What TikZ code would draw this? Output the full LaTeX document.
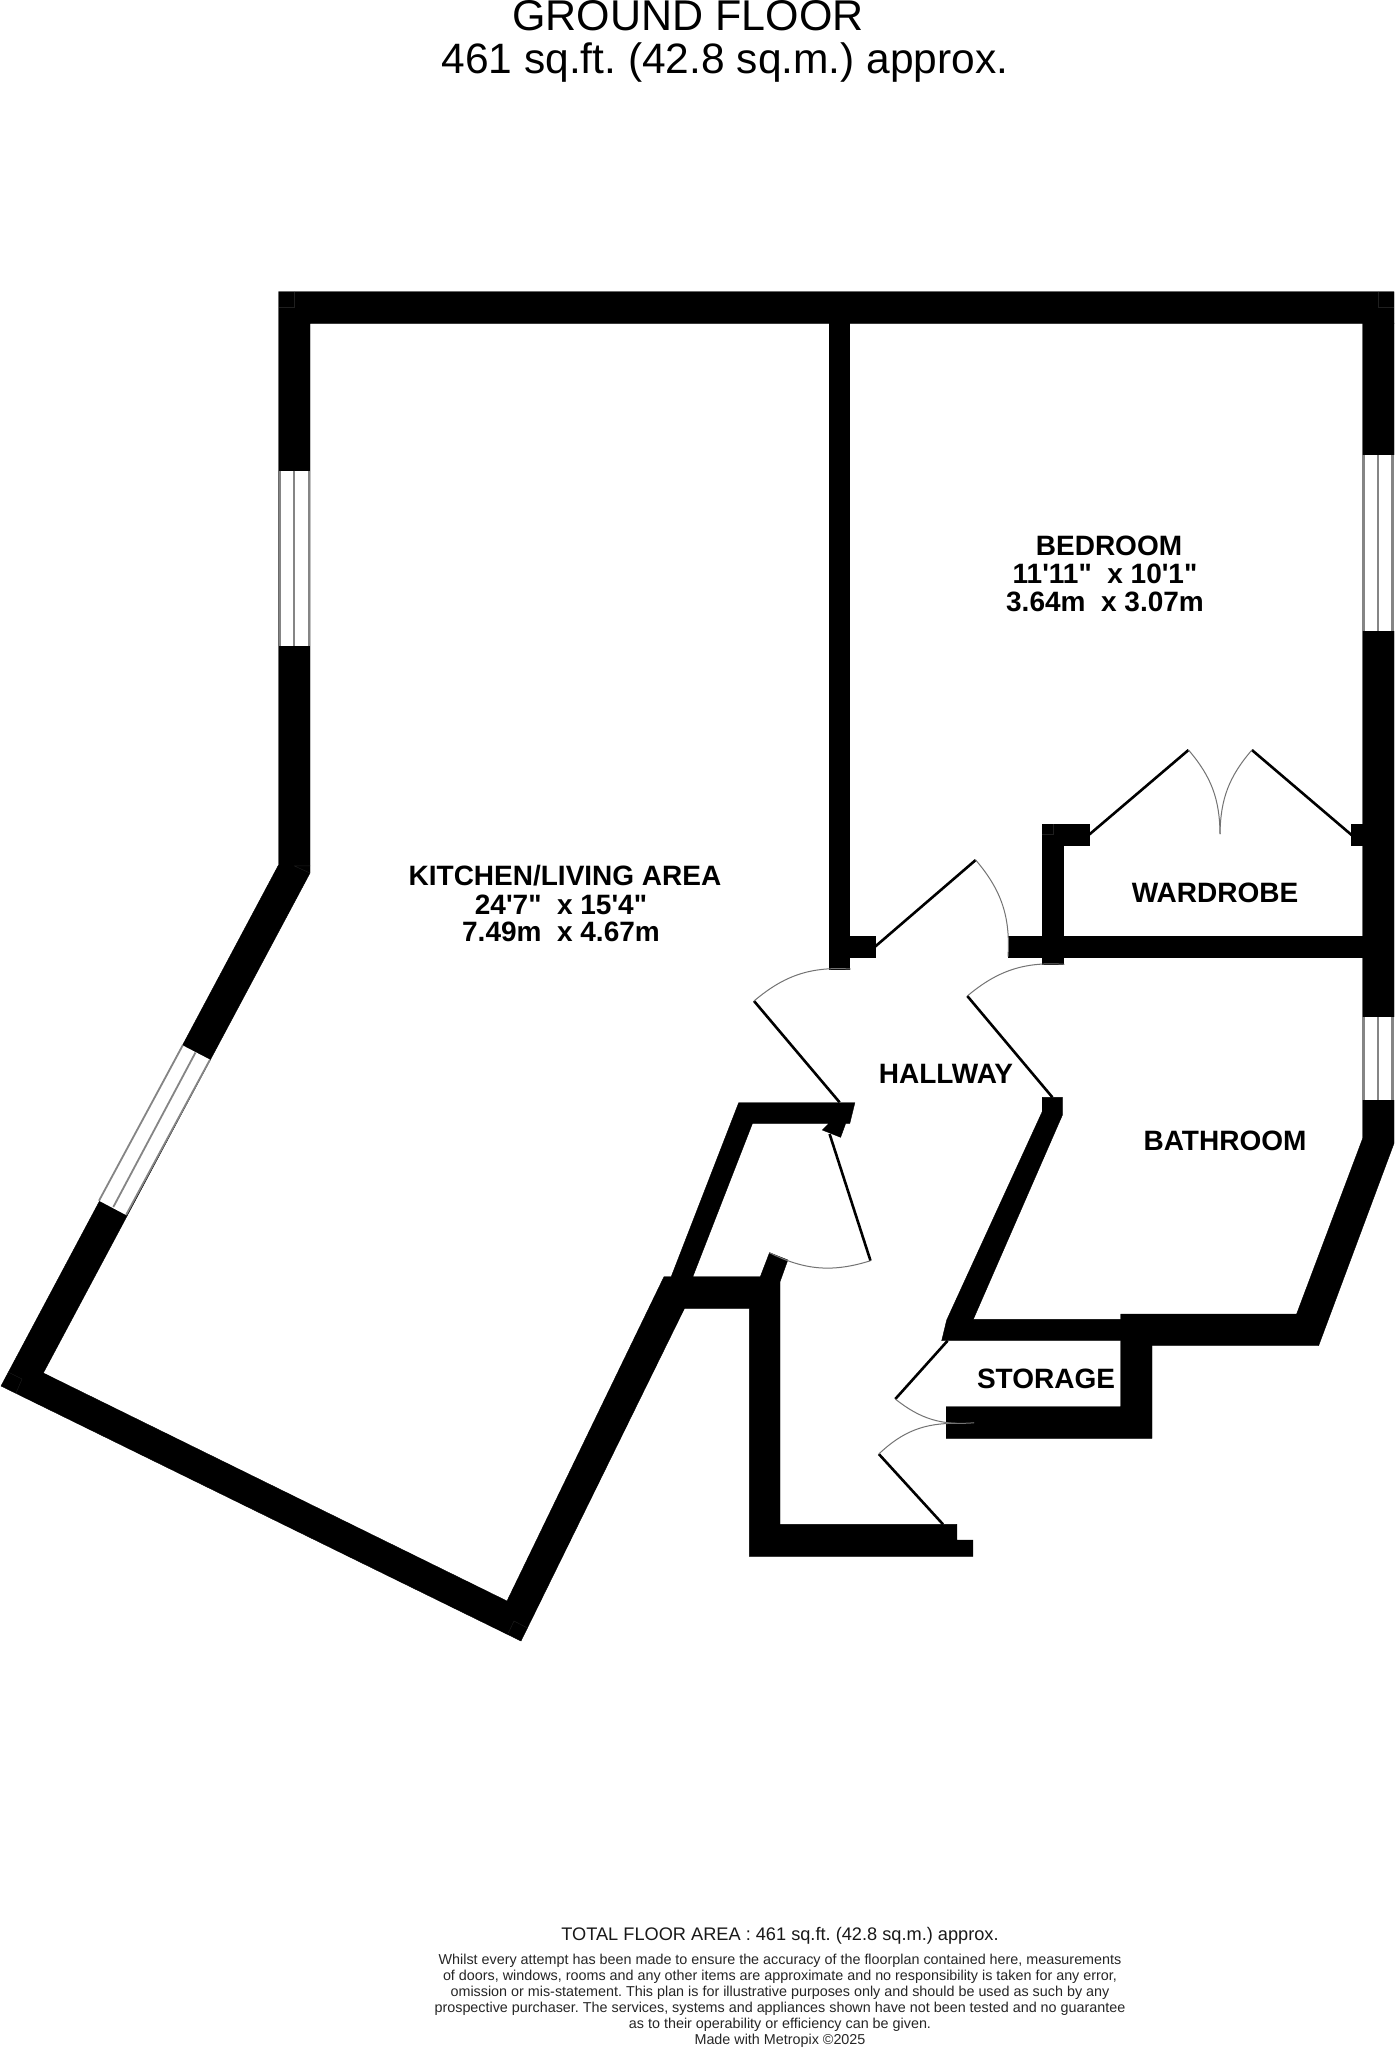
\documentclass[tikz,border=0pt]{standalone}
\usepackage{fontspec}
\newfontfamily\plainsans{Liberation Sans}
\frenchspacing
\tikzset{
  wall/.style={fill=black,draw=black,line width=0.4pt},
  glass/.style={fill=white,draw=none},
  pane/.style={draw=black!48,line width=2.7pt},
  leaf/.style={draw=black,line width=2.6pt},
  swing/.style={draw=black!55,line width=1pt},
  seam/.style={draw=black!88,line width=0.4pt},
  roomlabel/.style={font=\plainsans\fontsize{28}{29}\selectfont\bfseries,anchor=base,inner sep=0pt},
  titletext/.style={font=\plainsans\fontsize{43}{45}\selectfont,anchor=base,inner sep=0pt},
  areatext/.style={font=\plainsans\fontsize{42.5}{45}\selectfont,anchor=base,inner sep=0pt},
  smallprint/.style={font=\plainsans\fontsize{14.35}{16}\selectfont,anchor=base,inner sep=0pt,text=black!85},
  totalprint/.style={font=\plainsans\fontsize{18.2}{20}\selectfont,anchor=base,inner sep=0pt,text=black!90}
}
\begin{document}
\begin{tikzpicture}[x=1pt,y=-1pt]
\useasboundingbox (0,0) rectangle (1395,2048);
\fill[white] (0,0) rectangle (1395,2048);
% walls
\path[wall] (278.5,291.7) -- (1394,291.7) -- (1394,323.3) -- (310,323.3) -- (310,873) -- (43.3,1373) -- (507,1601) -- (664,1276.7) -- (671.2,1276.7) -- (738.7,1102.7) -- (854.9,1102.7) -- (849.8,1123.3) -- (845.7,1123.3) -- (840.6,1137.3) -- (822.3,1130) -- (829,1123.3) -- (752.5,1123.3) -- (692.8,1276.7) -- (760.3,1276.7) -- (769.5,1252.7) -- (787.8,1260) -- (780,1281.7) -- (780,1524.3) -- (956.8,1524.3) -- (956.8,1540) -- (972.9,1540) -- (972.9,1556.3) -- (749.3,1556.3) -- (749.3,1308.3) -- (684.5,1308.3) -- (521,1641) -- (1,1386) -- (278.5,865) -- cycle;
\path[wall] (1362.7,323) -- (1394,323) -- (1394,1143.3) -- (1318.6,1345.7) -- (1152,1345.7) -- (1152,1438.3) -- (946.2,1438.3) -- (946.2,1406.7) -- (1120.7,1406.7) -- (1120.7,1340.7) -- (941.7,1340.7) -- (946.7,1320) -- (1042.2,1111.7) -- (1042.2,1097.3) -- (1062.4,1097.3) -- (1062.4,1115) -- (973.3,1319.3) -- (1120.7,1319.3) -- (1120.7,1314) -- (1296.6,1314) -- (1362.7,1138.3) -- cycle;
\path[wall] (829,300) rectangle (849.4,969);
\path[wall] (849.4,935.7) rectangle (875.1,956.7);
\path[wall] (1008,935.7) rectangle (1363,956.7);
\path[wall] (1042.2,824) rectangle (1063,964.3);
\path[wall] (1042.2,824) rectangle (1088.7,845);
\path[wall] (1351.6,824) rectangle (1363,845);
% windows
\path[glass] (278.5,470.7) rectangle (310.2,646);
\draw[pane] (280,470.7) -- (280,646) (294,470.7) -- (294,646) (309,470.7) -- (309,646);
\path[glass] (1362.5,455) rectangle (1394.5,630.7);
\draw[pane] (1363.5,455) -- (1363.5,630.7) (1378,455) -- (1378,630.7) (1392.7,455) -- (1392.7,630.7);
\path[glass] (1362.5,1017.3) rectangle (1394.5,1100);
\draw[pane] (1363.5,1017.3) -- (1363.5,1100) (1378,1017.3) -- (1378,1100) (1392.7,1017.3) -- (1392.7,1100);
\path[glass] (182.7,1045.4) -- (210,1059.6) -- (126,1215) -- (99,1200.7) -- cycle;
\draw[pane,line width=1.8pt] (182.7,1045.4) -- (99,1200.7) (195.5,1052.5) -- (113.3,1207) (210,1059.6) -- (126,1215);
% corner seams
\draw[seam] (294.5,291.7) |- (278.5,307.3);
\draw[seam] (1378,291.7) |- (1394,307.3);
\draw[seam] (294,865.8) -- (310,865.8) (294,865.8) -- (310,873);
\draw[seam] (8,1372) -- (22,1379) -- (16,1393);
\draw[seam] (508.3,1633) -- (514,1621) -- (527.5,1628);
\draw[seam] (1042.2,834) -- (1053,834) -- (1053,824);
% door leaves
\draw[leaf] (875,946.7) -- (975.7,860);
\draw[swing] (975.7,860) to[bend left=22] (1008,956.7);
\draw[leaf] (1088.7,835) -- (1188.5,750);
\draw[swing] (1188.5,750) to[bend left=20] (1220,834);
\draw[leaf] (1351.6,835) -- (1251.9,750);
\draw[swing] (1251.9,750) to[bend right=20] (1220,834);
\draw[leaf] (839.6,1102.3) -- (754,1001);
\draw[swing] (754,1001) to[bend left=22] (850.7,969);
\draw[leaf] (1052.4,1097.3) -- (967.3,996);
\draw[swing] (967.3,996) to[bend left=22] (1064.4,964.3);
\draw[leaf] (829.6,1134) -- (870.5,1260.7);
\draw[swing] (870.5,1260.7) to[bend left=22] (769.5,1252.7);
\draw[leaf] (947.6,1340.7) -- (895.3,1399);
\draw[swing] (895.3,1399) to[bend right=22] (974.2,1422.7);
\draw[leaf] (943,1524.3) -- (878.8,1454);
\draw[swing] (878.8,1454) to[bend left=22] (956.8,1423.3);
% title
\node[titletext] (title1) at (688,30.7) {GROUND FLOOR};
\node[areatext] (title2) at (725,73.3) {461 sq.ft. (42.8 sq.m.) approx.};
% rooms
\node[roomlabel] (bed1) at (1109,555) {BEDROOM};
\node[roomlabel] (bed2) at (1105,583.4) {11'11"\ \ x 10'1"};
\node[roomlabel] (bed3) at (1105,611.4) {3.64m\ \ x 3.07m};
\node[roomlabel] (kit1) at (565,885) {KITCHEN/LIVING AREA};
\node[roomlabel] (kit2) at (561,914) {24'7"\ \ x 15'4"};
\node[roomlabel] (kit3) at (561,941.7) {7.49m\ \ x 4.67m};
\node[roomlabel] (ward) at (1215,902) {WARDROBE};
\node[roomlabel] (hall) at (946,1083) {HALLWAY};
\node[roomlabel] (bath) at (1225,1150) {BATHROOM};
\node[roomlabel] (stor) at (1046,1388) {STORAGE};
% footer
\node[totalprint] (total) at (780,1940) {TOTAL FLOOR AREA : 461 sq.ft. (42.8 sq.m.) approx.};
\node[smallprint] (f1) at (780,1964) {Whilst every attempt has been made to ensure the accuracy of the floorplan contained here, measurements};
\node[smallprint] (f2) at (780,1980) {of doors, windows, rooms and any other items are approximate and no responsibility is taken for any error,};
\node[smallprint] (f3) at (780,1996) {omission or mis-statement. This plan is for illustrative purposes only and should be used as such by any};
\node[smallprint] (f4) at (780,2012) {prospective purchaser. The services, systems and appliances shown have not been tested and no guarantee};
\node[smallprint] (f5) at (780,2028) {as to their operability or efficiency can be given.};
\node[smallprint] (f6) at (780,2044) {Made with Metropix \textcopyright 2025};
\end{tikzpicture}
\end{document}
